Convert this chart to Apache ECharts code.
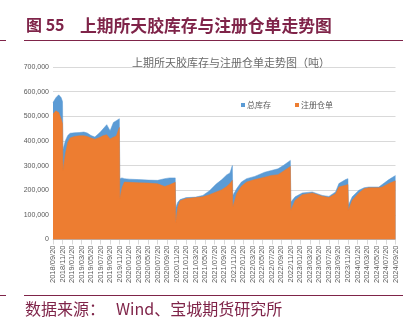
<!DOCTYPE html>
<html>
<head>
<meta charset="utf-8">
<style>
  html, body { margin: 0; padding: 0; background: #ffffff; }
  #chart { width: 412px; height: 330px; }
</style>
<script src="https://cdn.jsdelivr.net/npm/echarts@6/dist/echarts.min.js"></script>
</head>
<body>
<div id="chart"></div>
<script>
// Month offsets from 2018/09/20 (0) to 2024/09/20 (72)
const months = [
  0, 0.6, 1.2, 1.7, 2.0, 2.1, 2.6, 3.1, 3.6, 4.5, 5.5, 6.5, 7.2, 8.0, 8.8, 9.2, 9.9, 10.5, 11.3, 12.0,
  12.7, 13.3, 13.95, 14.05, 14.5, 15.0, 16, 18, 20, 22, 23.5, 24.5, 25.7, 25.8, 26.2, 26.7, 28, 30,
  31.5, 32.9, 34.3, 35.5, 36.5, 37.2, 37.7, 37.8, 38.6, 39.6, 40.7, 42.4, 44.5, 45.9, 47.3, 48.4,
  49.9, 50.0, 50.9, 52.4, 54.5, 56.6, 58.0, 59.4, 60.1, 61.5, 62.0, 62.1, 62.9, 64.3, 65.4, 66.4,
  68.5, 69.2, 70.6, 72
];

// 总库存 (tonnes)
const totalStock = [
  556000, 575000, 587000, 576000, 560000, 365000, 401000, 422000, 431000, 433000, 434000, 436000, 432000, 422000, 416000, 418000, 435000, 448000, 466000, 441000,
  475000, 482000, 490000, 247000, 250000, 247000, 245000, 243000, 241000, 240000, 247000, 250000, 250000, 128000, 150000, 162000, 170000, 172000,
  179000, 198000, 225000, 243000, 262000, 270000, 300000, 179000, 206000, 233000, 247000, 256000, 273000, 280000, 287000, 300000,
  321000, 152000, 173000, 189000, 193000, 179000, 175000, 193000, 227000, 243000, 247000, 139000, 173000, 200000, 210000, 213000,
  213000, 223000, 243000, 260000
];

// 注册仓单 (tonnes)
const warrants = [
  509000, 522000, 515000, 490000, 470000, 280000, 349000, 394000, 412000, 418000, 421000, 421000, 418000, 412000, 407000, 404000, 415000, 421000, 425000, 408000,
  415000, 420000, 455000, 166000, 210000, 233000, 232000, 230000, 229000, 226000, 215000, 222000, 232000, 68000, 130000, 157000, 166000, 170000,
  173000, 182000, 193000, 202000, 215000, 227000, 240000, 132000, 186000, 216000, 233000, 243000, 253000, 260000, 263000, 277000,
  296000, 119000, 159000, 182000, 189000, 176000, 170000, 186000, 213000, 220000, 223000, 119000, 159000, 189000, 206000, 210000,
  210000, 213000, 227000, 238000
];

// Tick labels every two months
const tickLabels = [
  '2018/09/20','2018/11/20','2019/01/20','2019/03/20','2019/05/20','2019/07/20','2019/09/20','2019/11/20',
  '2020/01/20','2020/03/20','2020/05/20','2020/07/20','2020/09/20','2020/11/20',
  '2021/01/20','2021/03/20','2021/05/20','2021/07/20','2021/09/20','2021/11/20',
  '2022/01/20','2022/03/20','2022/05/20','2022/07/20','2022/09/20','2022/11/20',
  '2023/01/20','2023/03/20','2023/05/20','2023/07/20','2023/09/20','2023/11/20',
  '2024/01/20','2024/03/20','2024/05/20','2024/07/20','2024/09/20'
];

const seriesNames = ['总库存', '注册仓单'];

const maroon = '#7f2449';
const gray = '#595959';

const chart = echarts.init(document.getElementById('chart'), null, { renderer: 'canvas' });

chart.setOption({
  backgroundColor: '#ffffff',
  animation: false,
  textStyle: { fontFamily: '"Noto Sans CJK SC", "Liberation Sans", sans-serif' },
  title: {
    text: '上期所天胶库存与注册仓单走势图（吨）',
    left: 226,
    textAlign: 'center',
    top: 52,
    textStyle: { fontSize: 11, fontWeight: 'normal', color: '#6a6a6a' }
  },
  legend: {
    data: seriesNames,
    left: 236,
    top: 96,
    icon: 'rect',
    itemWidth: 4,
    itemHeight: 4,
    itemGap: 24,
    textStyle: { fontSize: 8, color: gray, padding: [0, 0, 0, -3] }
  },
  grid: { left: 53, right: 16.5, top: 67, bottom: 90.5 },
  xAxis: {
    type: 'value',
    min: 0,
    max: 72,
    interval: 2,
    axisLine: { show: true, lineStyle: { color: '#d9d9d9' } },
    axisTick: { show: true, length: 5, lineStyle: { color: '#d9d9d9' } },
    splitLine: { show: false },
    axisLabel: {
      rotate: 90,
      margin: 6,
      fontSize: 7.5,
      color: gray,
      fontFamily: '"Liberation Sans", Arial, sans-serif',
      formatter: v => tickLabels[Math.round(v / 2)] || ''
    }
  },
  yAxis: {
    type: 'value',
    min: 0,
    max: 700000,
    interval: 100000,
    axisLine: { show: false },
    axisTick: { show: false },
    splitLine: { lineStyle: { color: '#d9d9d9', width: 1 } },
    axisLabel: {
      fontSize: 7,
      color: gray,
      margin: 4,
      fontFamily: '"Liberation Sans", Arial, sans-serif',
      formatter: v => v.toLocaleString('en-US')
    }
  },
  series: [
    {
      name: seriesNames[0],
      type: 'line',
      symbol: 'none',
      smooth: false,
      itemStyle: { color: '#5b9bd5' },
      lineStyle: { width: 0.5, color: '#5b9bd5' },
      areaStyle: { color: '#5b9bd5', opacity: 1 },
      data: months.map((m, i) => [m, totalStock[i]]),
      z: 2
    },
    {
      name: seriesNames[1],
      type: 'line',
      symbol: 'none',
      smooth: false,
      itemStyle: { color: '#ed7d31' },
      lineStyle: { width: 0.5, color: '#ed7d31' },
      areaStyle: { color: '#ed7d31', opacity: 1 },
      data: months.map((m, i) => [m, warrants[i]]),
      z: 3
    }
  ],
  graphic: [
    // report header
    { type: 'text', left: 26, top: 17, style: { text: '图 55', fill: maroon, font: 'bold 16px "Noto Sans CJK SC", sans-serif' } },
    { type: 'text', left: 80, top: 17, style: { text: '上期所天胶库存与注册仓单走势图', fill: maroon, font: 'bold 16.8px "Noto Sans CJK SC", sans-serif' } },
    { type: 'line', shape: { x1: 24, y1: 40.5, x2: 403, y2: 40.5 }, style: { stroke: maroon, lineWidth: 1 } },
    { type: 'line', shape: { x1: 0, y1: 40.5, x2: 6, y2: 40.5 }, style: { stroke: maroon, lineWidth: 1 } },
    // footer
    { type: 'line', shape: { x1: 24, y1: 295.5, x2: 403, y2: 295.5 }, style: { stroke: maroon, lineWidth: 1 } },
    { type: 'line', shape: { x1: 0, y1: 295.5, x2: 6, y2: 295.5 }, style: { stroke: maroon, lineWidth: 1 } },
    { type: 'text', left: 25, top: 301, style: { text: '数据来源：', fill: maroon, font: '16px "Noto Sans CJK SC", sans-serif' } },
    { type: 'text', left: 116, top: 301, style: { text: 'Wind、宝城期货研究所', fill: maroon, font: '16px "Noto Sans CJK SC", sans-serif' } }
  ]
});
</script>
</body>
</html>
